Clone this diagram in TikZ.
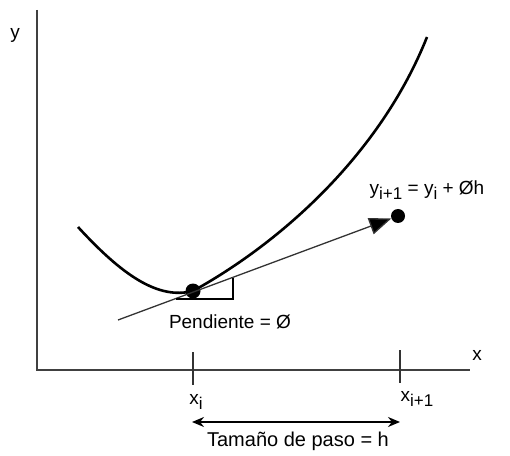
\documentclass[tikz,border=0pt]{standalone}
\usepackage{fontspec}
\setmainfont{Liberation Sans}
\usetikzlibrary{arrows.meta,positioning,calc}
\newcommand{\lowidx}[1]{\raisebox{-0.5ex}{\fontsize{17}{17}\selectfont #1}}

\tikzset{
  axisline/.style={line width=1.8pt, draw=black!75},
  tickline/.style={line width=1.2pt, draw=black!80},
  dotnode/.style={circle, fill=black, inner sep=0pt, minimum size=15pt},
  lbl/.style={font=\fontsize{19}{19}\selectfont, inner sep=1pt}
}

\begin{document}
\begin{tikzpicture}[x=1pt, y=1pt]
    \useasboundingbox (0,0) rectangle (510,455);
    % axes
    \coordinate (origin) at (37,85);
    \coordinate (ytop) at (37,445);
    \coordinate (xend) at (470,85);
    \draw[axisline] (ytop) -- (origin) -- (xend);
    \node[lbl] (ylab) at (15,420) {y};
    \node[lbl] (xlab) at (477,100) {x};

    % the function
    \coordinate (fa) at (78,228);
    \coordinate (fb) at (427,418);
    \draw[line width=2.6pt] (fa) .. controls (122,180) and (158,155) .. (193,164)
      .. controls (280,212) and (380,300) .. (fb);

    % points
    \node[dotnode] (pi) at (193,164) {};
    \node[dotnode, minimum size=14pt] (pnext) at (398,239) {};

    % slope line
    \coordinate (tstart) at (118,135);
    \draw[line width=1.3pt, draw=black!80,
          -{Triangle[length=22pt, width=17pt, fill=black]}] (tstart) -- (pnext);

    % slope triangle
    \coordinate (sa) at (176,156);
    \coordinate (sb) at (233,156);
    \coordinate (sc) at (233,177.5);
    \draw[line width=1.2pt] (sa) -- (sb) -- (sc);

    \node[lbl] (slope) at (230,133) {Pendiente = Ø};
    \node[lbl] (formula) at (427,265)
      {y\lowidx{i+1} = y\lowidx{i} + Øh};

    % ticks
    \coordinate (ti1) at (193,103);
    \coordinate (ti2) at (193,70);
    \coordinate (tn1) at (400,105);
    \coordinate (tn2) at (400,72);
    \draw[tickline] (ti1) -- (ti2);
    \draw[tickline] (tn1) -- (tn2);
    \node[lbl] (xi) at (196,53) {x\lowidx{i}};
    \node[lbl] (xnext) at (417,56) {x\lowidx{i+1}};

    % step size
    \coordinate (ha) at (192,33);
    \coordinate (hb) at (400,33);
    \draw[line width=1.5pt, {Stealth[length=12pt, width=10pt]}-{Stealth[length=12pt, width=10pt]}] (ha) -- (hb);
    \node[lbl, font=\fontsize{20}{20}\selectfont] (step) at (298,14) {Tamaño de paso = h};
\end{tikzpicture}
\end{document}
